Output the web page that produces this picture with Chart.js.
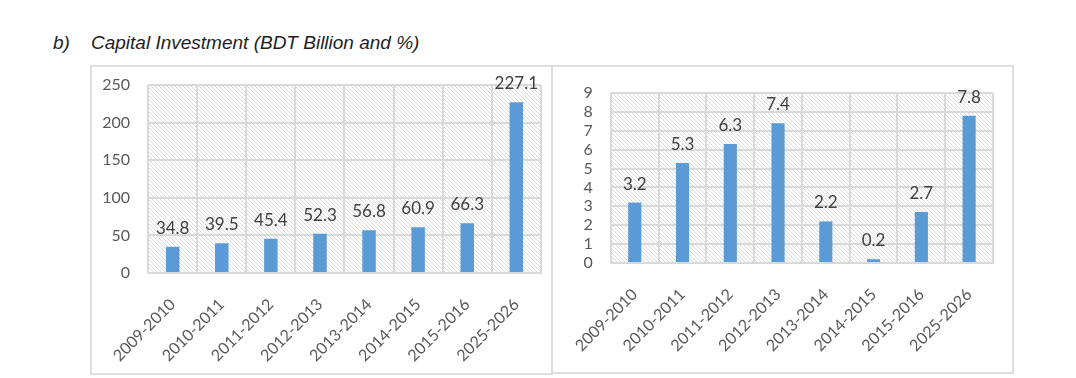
<!DOCTYPE html>
<html>
<head>
<meta charset="utf-8">
<script src="https://cdn.jsdelivr.net/npm/chart.js@4.4.0/dist/chart.umd.min.js"></script>
<style>
  body { margin: 0; background: #fff; width: 1076px; height: 378px; position: relative; overflow: hidden; }
  .title { position: absolute; left: 53px; top: 32px; font-family: "Liberation Sans", sans-serif; font-style: italic; font-size: 19px; color: #1e1e1e; white-space: pre; }
  .panel { position: absolute; border: 2px solid #dedede; box-sizing: border-box; }
  canvas { position: absolute; }
</style>
</head>
<body>
<div class="title">b)    Capital Investment (BDT Billion and %)</div>
<div class="panel" style="left:90px; top:65px; width:463px; height:310px;"></div>
<div class="panel" style="left:551px; top:65px; width:463px; height:309px;"></div>
<canvas id="chartBillion" style="left:91px; top:66px;" width="461" height="307"></canvas>
<canvas id="chartPercent" style="left:553px; top:66px;" width="460" height="307"></canvas>
<script>
const years = ['2009-2010', '2010-2011', '2011-2012', '2012-2013', '2013-2014', '2014-2015', '2015-2016', '2025-2026'];
const investBillion = [34.8, 39.5, 45.4, 52.3, 56.8, 60.9, 66.3, 227.1];
const investPercent = [3.2, 5.3, 6.3, 7.4, 2.2, 0.2, 2.7, 7.8];

const barColor = '#5b9bd5';
const gridColor = '#d9d9d9';
const labelFont = 'Lato';

// hatch fill for the plot background
let makeHatch = () => {
    const c = document.createElement('canvas');
    c.width = 4; c.height = 4;
    const g = c.getContext('2d');
    g.fillStyle = '#ffffff';
    g.fillRect(0, 0, 4, 4);
    g.strokeStyle = '#dcdcdc';
    g.lineWidth = 1;
    g.beginPath();
    g.moveTo(-1, -1); g.lineTo(5, 5);
    g.moveTo(-1, 3); g.lineTo(1, 5);
    g.moveTo(3, -1); g.lineTo(5, 1);
    g.stroke();
    return c;
};

const hatchBg = {
    id: 'hatchBg',
    beforeDraw(chart) {
        const { ctx, chartArea } = chart;
        ctx.save();
        ctx.fillStyle = ctx.createPattern(makeHatch(), 'repeat');
        ctx.fillRect(chartArea.left, chartArea.top, chartArea.right - chartArea.left, chartArea.bottom - chartArea.top);
        ctx.restore();
    }
};

const valueLabels = {
    id: 'valueLabels',
    afterDatasetsDraw(chart) {
        const { ctx } = chart;
        const meta = chart.getDatasetMeta(0);
        const values = chart.data.datasets[0].data;
        ctx.save();
        ctx.font = '17px ' + labelFont;
        ctx.fillStyle = '#404040';
        ctx.textAlign = 'center';
        ctx.textBaseline = 'alphabetic';
        meta.data.forEach((bar, i) => {
            ctx.fillText(values[i].toFixed(1), bar.x, bar.y - 13);
        });
        ctx.restore();
    }
};

let plot = (id, values, maxY, step, yWidth, pad, xHeight) => {
    const ctx = document.getElementById(id);
    const dataset = {
        labels: years,
        datasets: [{
            data: values,
            backgroundColor: barColor,
            barPercentage: 0.55,
            categoryPercentage: 0.5
        }]
    };
    const config = {
        type: 'bar',
        data: dataset,
        options: {
            responsive: false,
            animation: false,
            layout: { padding: pad },
            plugins: { legend: { display: false }, tooltip: { enabled: false } },
            scales: {
                x: {
                    offset: true,
                    grid: { color: gridColor, lineWidth: 2, offset: true, drawTicks: false },
                    border: { color: gridColor, width: 2 },
                    ticks: {
                        color: '#595959',
                        font: { family: labelFont, size: 16 },
                        maxRotation: 45, minRotation: 45,
                        autoSkip: false,
                        padding: 22
                    },
                    afterFit: (s) => { s.height = xHeight; }
                },
                y: {
                    min: 0, max: maxY,
                    grid: { color: gridColor, lineWidth: 2, drawTicks: false },
                    border: { display: false },
                    ticks: {
                        stepSize: step,
                        autoSkip: false,
                        color: '#595959',
                        font: { family: labelFont, size: 16 },
                        padding: 18
                    },
                    afterFit: (s) => { s.width = yWidth; s.paddingTop = 0; s.paddingBottom = 0; }
                }
            }
        },
        plugins: [hatchBg, valueLabels]
    };
    return new Chart(ctx, config);
};

plot('chartBillion', investBillion, 250, 50, 57, { top: 19, right: 2, left: 0, bottom: 0 }, 100);
plot('chartPercent', investPercent, 9, 1, 49, { top: 27, right: 20, left: 0, bottom: 0 }, 110);
</script>
</body>
</html>
